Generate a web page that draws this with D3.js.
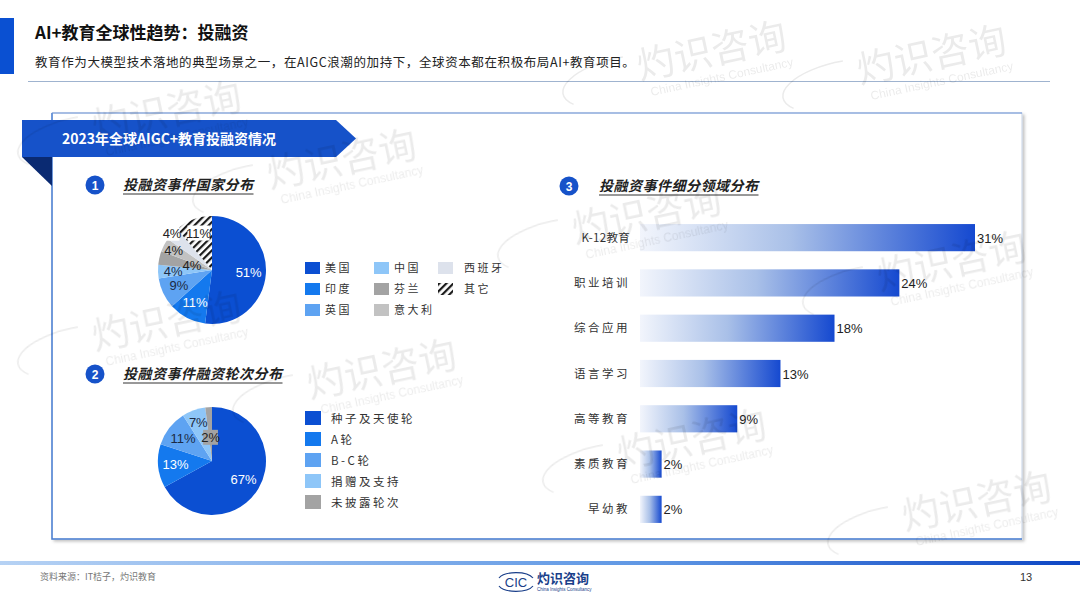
<!DOCTYPE html>
<html><head><meta charset="utf-8">
<script src="https://cdn.jsdelivr.net/npm/d3@7/dist/d3.min.js"></script>
<style>
html,body{margin:0;padding:0;background:#fff;}
svg{display:block;font-family:"Liberation Sans","Noto Sans CJK SC",sans-serif;}
.cn{font-family:"Noto Sans CJK SC",sans-serif;}
</style></head>
<body>
<svg id="c" width="1080" height="607"></svg>
<script>
// ---------- data ----------
const pageTitle = "AI+教育全球性趋势：投融资";
const pageSubtitle = "教育作为大模型技术落地的典型场景之一，在AIGC浪潮的加持下，全球资本都在积极布局AI+教育项目。";
const panelTitle = "2023年全球AIGC+教育投融资情况";
const sectionTitles = ["投融资事件国家分布", "投融资事件融资轮次分布", "投融资事件细分领域分布"];

const countryNames = ["美国", "印度", "英国", "中国", "芬兰", "意大利", "西班牙", "其它"];
const countryValues = [51, 11, 9, 4, 4, 4, 4, 11];
const countryColors = ["#0b4fd2", "#1479ee", "#5ea3f2", "#8ec6f8", "#a3a3a3", "#c2c2c2", "#dde2ec", "hatch"];

const roundNames = ["种子及天使轮", "A轮", "B-C轮", "捐赠及支持", "未披露轮次"];
const roundValues = [67, 13, 11, 7, 2];
const roundColors = ["#0b4fd2", "#1479ee", "#5ea3f2", "#8ec6f8", "#a3a3a3"];

const fieldNames = ["K-12教育", "职业培训", "综合应用", "语言学习", "高等教育", "素质教育", "早幼教"];
const fieldValues = [31, 24, 18, 13, 9, 2, 2];

const sourceText = "资料来源：IT桔子，灼识教育";
const pageNumber = "13";
const watermarkText = "灼识咨询";
const watermarkSub = "China Insights Consultancy";

// ---------- drawing ----------
const svg = d3.select("#c");
const defs = svg.append("defs");

const hatch = defs.append("pattern").attr("id","hatch").attr("patternUnits","userSpaceOnUse")
  .attr("width",5).attr("height",5).attr("patternTransform","rotate(45)");
hatch.append("rect").attr("width",5).attr("height",5).attr("fill","#fff");
hatch.append("rect").attr("width",2.2).attr("height",5).attr("fill","#1a1a1a");

const barGrad = defs.append("linearGradient").attr("id","barGrad").attr("x1","0").attr("x2","1").attr("y1","0").attr("y2","0");
barGrad.append("stop").attr("offset","0%").attr("stop-color","#f2f5fc");
barGrad.append("stop").attr("offset","45%").attr("stop-color","#a9c0e8");
barGrad.append("stop").attr("offset","100%").attr("stop-color","#1549d0");

const footGrad = defs.append("linearGradient").attr("id","footGrad").attr("x1","0").attr("x2","1");
footGrad.append("stop").attr("offset","0%").attr("stop-color","#b6d2f4");
footGrad.append("stop").attr("offset","60%").attr("stop-color","#5f97e4");
footGrad.append("stop").attr("offset","100%").attr("stop-color","#0d46c4");

const shadow = defs.append("filter").attr("id","shadow").attr("x","-5%").attr("y","-5%").attr("width","110%").attr("height","110%");
shadow.append("feDropShadow").attr("dx",2).attr("dy",2).attr("stdDeviation",1.5).attr("flood-color","#000").attr("flood-opacity",0.25);

const fill = c => c === "hatch" ? "url(#hatch)" : c;

// header
svg.append("rect").attr("x",0).attr("y",18).attr("width",14).attr("height",56).attr("fill","#0a50d2");
svg.append("text").attr("class","cn").attr("x",35).attr("y",39).attr("font-size",17).attr("font-weight","bold").attr("fill","#111").text(pageTitle);
svg.append("text").attr("class","cn").attr("x",35).attr("y",67).attr("font-size",12.5).attr("fill","#222").attr("letter-spacing",0.6).text(pageSubtitle);
svg.append("line").attr("x1",28).attr("x2",1050).attr("y1",81.5).attr("y2",81.5).attr("stroke","#9fb3cf").attr("stroke-width",1);

// card
svg.append("rect").attr("x",52).attr("y",113).attr("width",970).attr("height",426)
  .attr("fill","#fff").attr("stroke","#c7d3e6").attr("stroke-width",1).attr("filter","url(#shadow)");
svg.append("path").attr("d","M52,113 L52,539 L1022,539").attr("fill","none").attr("stroke","#4b7fd2").attr("stroke-width",1.5);
svg.append("line").attr("x1",52).attr("x2",1022).attr("y1",113).attr("y2",113).attr("stroke","#6d93d6").attr("stroke-width",1);

// panel banner
svg.append("polygon").attr("points","22,157 52,157 52,186").attr("fill","#0a2a72");
svg.append("polygon").attr("points","22,120 336,120 356,138.5 336,157 22,157").attr("fill","#1652c9");
svg.append("text").attr("class","cn").attr("x",62).attr("y",144).attr("font-size",14).attr("font-weight","bold").attr("fill","#fff").text(panelTitle);

// section headers
function section(num, cx, cy, tx, title) {
  svg.append("circle").attr("cx",cx).attr("cy",cy).attr("r",9.5).attr("fill","#1652c9");
  svg.append("text").attr("x",cx).attr("y",cy+4.5).attr("text-anchor","middle").attr("font-size",12).attr("font-weight","bold").attr("fill","#fff").text(num);
  const t = svg.append("text").attr("class","cn").attr("x",tx).attr("y",cy+5).attr("font-size",14).attr("font-weight","bold").attr("font-style","italic").attr("fill","#222").attr("letter-spacing",0.5).text(title);
  const w = t.node().getComputedTextLength();
  svg.append("line").attr("x1",tx).attr("x2",tx+w).attr("y1",cy+9).attr("y2",cy+9).attr("stroke","#333").attr("stroke-width",1);
}
section("1", 95, 185, 123, sectionTitles[0]);
section("2", 95, 374, 123, sectionTitles[1]);
section("3", 569, 186, 599, sectionTitles[2]);

// pies
const R = 54;
const arc = d3.arc().innerRadius(0).outerRadius(R);
const pie = d3.pie().sort(null).value(d => d);

function drawPie(cx, cy, values, colors, labelR, labelColors, labelBg) {
  const g = svg.append("g").attr("transform",`translate(${cx},${cy})`);
  const arcs = pie(values);
  g.selectAll("path").data(arcs).join("path").attr("d",arc).attr("fill",(d,i)=>fill(colors[i]));
  arcs.forEach((a,i) => {
    const la = d3.arc().innerRadius(R*labelR[i]).outerRadius(R*labelR[i]);
    const [x,y] = la.centroid(a);
    const txt = values[i] + "%";
    if (labelBg[i]) {
      const w = txt.length * 7.4;
      g.append("rect").attr("x",x-w/2).attr("y",y-8).attr("width",w).attr("height",15).attr("fill",labelBg[i]);
    }
    g.append("text").attr("x",x).attr("y",y+4.5).attr("text-anchor","middle").attr("font-size",13).attr("fill",labelColors[i]).text(txt);
  });
}
drawPie(212, 270, countryValues, countryColors,
  [0.68,0.68,0.68,0.72,0.38,0.8,1.0,0.72],
  ["#fff","#fff","#1c2a44","#1c2a44","#222","#222","#222","#222"],
  [null,null,null,null,null,null,"#fff","#fff"]);
drawPie(212, 461, roundValues, roundColors,
  [0.68,0.68,0.68,0.75,0.43],
  ["#fff","#fff","#1c2a44","#1c2a44","#222"],
  [null,null,null,null,"#a3a3a3"]);

// legend 1 (3 columns)
const leg1Cols = [305, 374, 438], leg1Rows = [268, 289, 310];
countryNames.forEach((n,i) => {
  const col = Math.floor(i/3), row = i%3;
  const x = leg1Cols[col], y = leg1Rows[row];
  svg.append("rect").attr("x",x).attr("y",y-6).attr("width",15).attr("height",12).attr("fill",fill(countryColors[i]));
  svg.append("text").attr("class","cn").attr("x", col===2 ? x+26 : x+20).attr("y",y+4).attr("font-size",11).attr("fill","#333").attr("letter-spacing",2.5).text(n);
});
// legend 2
roundNames.forEach((n,i) => {
  const y = 418 + i*21;
  svg.append("rect").attr("x",305).attr("y",y-7).attr("width",16).attr("height",14).attr("fill",roundColors[i]);
  svg.append("text").attr("class","cn").attr("x",331).attr("y",y+4.5).attr("font-size",11.5).attr("fill","#333").attr("letter-spacing",2.5).text(n);
});

// bar chart
const x = d3.scaleLinear().domain([0,31]).range([640,975]);
const y = d3.scaleBand().domain(fieldNames).range([215,532]).paddingInner(0.4).paddingOuter(0.2);
const bars = svg.append("g");
bars.selectAll("rect").data(fieldValues).join("rect")
  .attr("x",x(0)).attr("y",(d,i)=>y(fieldNames[i])).attr("width",d=>x(d)-x(0)).attr("height",y.bandwidth())
  .attr("fill","url(#barGrad)");
bars.selectAll("text.v").data(fieldValues).join("text").attr("class","v")
  .attr("x",d=>x(d)+2).attr("y",(d,i)=>y(fieldNames[i])+y.bandwidth()/2+5).attr("font-size",13).attr("fill","#222").text(d=>d+"%");
bars.selectAll("text.l").data(fieldNames).join("text").attr("class","l cn")
  .attr("x",630).attr("y",d=>y(d)+y.bandwidth()/2+4).attr("text-anchor","end").attr("font-size",11.5)
  .attr("fill","#333").attr("letter-spacing",(d,i)=>i===0?0.3:2.5).text(d=>d);

// footer
svg.append("rect").attr("x",0).attr("y",561).attr("width",1080).attr("height",4).attr("fill","url(#footGrad)");
svg.append("text").attr("class","cn").attr("x",40).attr("y",580).attr("font-size",9).attr("fill","#777").text(sourceText);
svg.append("text").attr("x",1020).attr("y",581).attr("font-size",11).attr("fill","#333").text(pageNumber);
const logo = svg.append("g").attr("transform","translate(497,570)");
logo.append("path").attr("d","M2,8 A 18 8 0 0 1 36 8").attr("fill","none").attr("stroke","#1a3f8a").attr("stroke-width",1.2);
logo.append("path").attr("d","M2,16 A 18 8 0 0 0 36 16").attr("fill","none").attr("stroke","#1a3f8a").attr("stroke-width",1.2);
logo.append("text").attr("x",19).attr("y",17).attr("text-anchor","middle").attr("font-size",13).attr("fill","#1a3f8a").text("CIC");
logo.append("text").attr("class","cn").attr("x",40).attr("y",13).attr("font-size",13).attr("font-weight","bold").attr("fill","#1a3f8a").text("灼识咨询");
logo.append("text").attr("x",40).attr("y",21).attr("font-size",4.5).attr("fill","#1a3f8a").text("China Insights Consultancy");

// watermarks (faint, on top, kept inside the page)
const wmLayer = svg.append("g").attr("opacity",0.08).attr("pointer-events","none");
function watermark(x0, y0) {
  const g = wmLayer.append("g").attr("transform",`translate(${x0},${y0}) rotate(-12)`);
  g.append("text").attr("class","cn").attr("x",0).attr("y",0).attr("font-size",38).attr("fill","#000").text(watermarkText);
  g.append("text").attr("x",8).attr("y",18).attr("font-size",12).attr("fill","#000").text(watermarkSub);
  g.append("path").attr("d","M-12,-26 A 60 24 0 0 0 -70 10").attr("fill","none").attr("stroke","#000").attr("stroke-width",1.5);
}
[[640,80],[860,84],[270,188],[575,243],[880,290],[310,398],[620,468],[905,530],[95,350],[95,140]].forEach(d=>watermark(...d));
</script>
</body></html>
